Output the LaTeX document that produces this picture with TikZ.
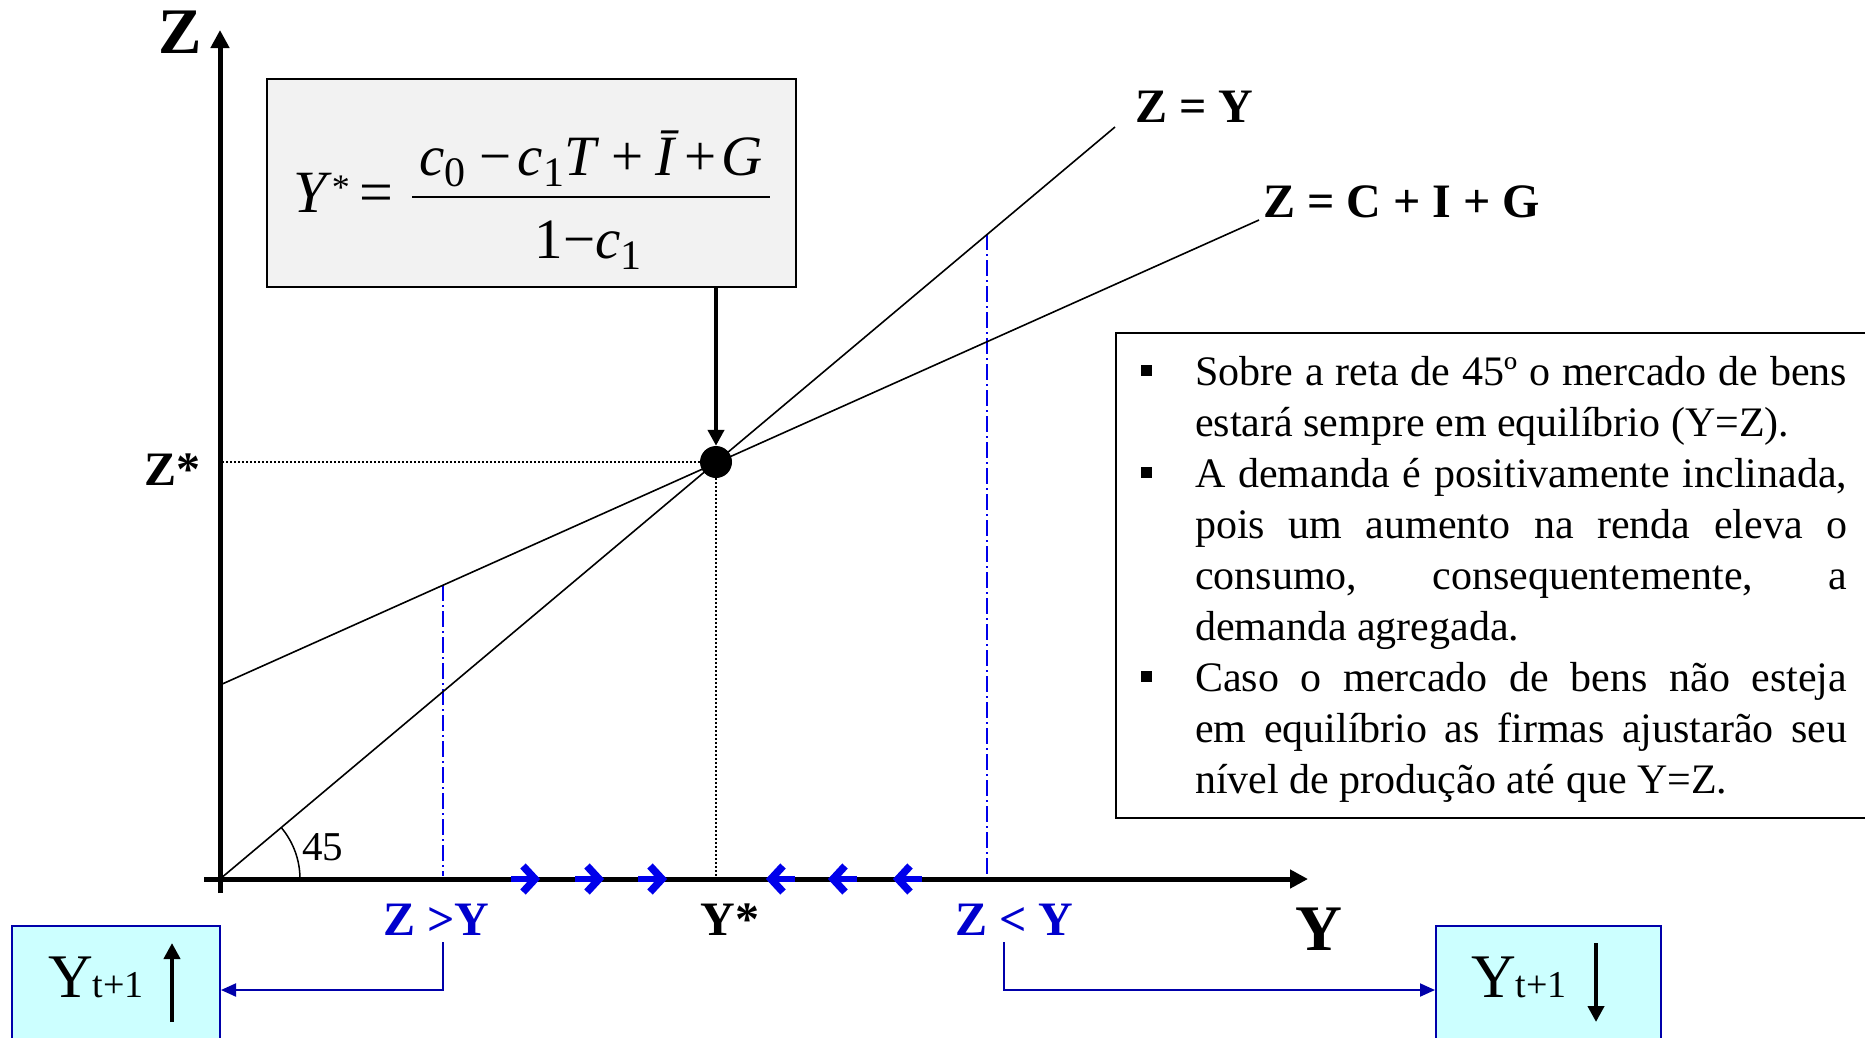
\documentclass[tikz,border=0pt]{standalone}
\usepackage{fontspec}
\setmainfont{Liberation Serif}
\usetikzlibrary{arrows.meta}
\definecolor{chevblue}{RGB}{0,0,235}
\definecolor{lblblue}{RGB}{0,0,205}
\definecolor{connblue}{RGB}{0,0,170}
\definecolor{boxfill}{RGB}{204,255,255}
\definecolor{eqfill}{RGB}{242,242,242}
\begin{document}
\begin{tikzpicture}[x=1pt,y=-1pt,
  axis/.style={line width=5pt,-{Triangle[width=18pt,length=18pt]}},
  curve/.style={line width=1.6pt},
  dotln/.style={line width=1.5pt,dash pattern=on 2pt off 2pt},
  ddash/.style={draw=chevblue,line width=1.6pt,dash pattern=on 16pt off 4pt on 2pt off 4pt},
  chevshaft/.style={draw=chevblue,line width=6pt},
  chevarm/.style={draw=chevblue,line width=7.5pt,line join=miter,miter limit=4},
  conn/.style={draw=connblue,line width=2pt,-{Triangle[width=13pt,length=15pt]}},
  blackarr/.style={line width=4pt,-{Triangle[width=16pt,length=16pt]}},
  bigbold/.style={inner sep=0,font=\fontsize{65}{65}\selectfont\bfseries},
  midbold/.style={inner sep=0,font=\fontsize{48}{48}\selectfont\bfseries},
  bluelbl/.style={midbold,text=lblblue},
  yblock/.style={draw=connblue,line width=2pt,fill=boxfill,inner sep=0},
  bulletsq/.style={fill=black,inner sep=0,minimum size=11pt},
  plain/.style={inner sep=0},
]
\useasboundingbox (0,0) rectangle (1865,1037);
\fill[white] (0,0) rectangle (1865,1037);
\clip (0,0) rectangle (1865,1037);

% key points
\coordinate (O) at (220,879);
\coordinate (ytop) at (220,30);
\coordinate (ybot) at (220,893);
\coordinate (xleft) at (204,879);
\coordinate (xend) at (1308,879);
\coordinate (zyend) at (1115,127);
\coordinate (cig0) at (220,685);
\coordinate (cigend) at (1259,220);
\coordinate (zs) at (222,462);
\coordinate (dl1a) at (443,585);
\coordinate (dl1b) at (443,876);
\coordinate (dl2a) at (987,234);
\coordinate (dl2b) at (987,876);
\coordinate (c1) at (443,942);
\coordinate (c2) at (1004,942);

% guide lines
\draw[dotln] (zs) -- (716,462);
\draw[dotln] (716,462) -- (716,876);
\draw[ddash] (dl1a) -- (dl1b);
\draw[ddash] (dl2a) -- (dl2b);

% curves
\draw[curve] (O) -- (zyend);
\draw[curve] (cig0) -- (cigend);
\draw[line width=1.5pt] (300,879) arc[start angle=0,end angle=40,radius=80pt];
\node[plain,anchor=base west,font=\fontsize{41}{41}\selectfont] (ang) at (302,860) {45};

% axes
\draw[axis] (ybot) -- (ytop);
\draw[axis] (xleft) -- (xend);

% blue chevrons
\foreach \t in {539,603,666} {
  \draw[chevshaft] (\t-28,879) -- (\t-8,879);
  \draw[chevarm] (\t-16,866) -- (\t-4,879) -- (\t-16,892);
}
\foreach \t in {767,829,894} {
  \draw[chevshaft] (\t+28,879) -- (\t+8,879);
  \draw[chevarm] (\t+16,866) -- (\t+4,879) -- (\t+16,892);
}

% equilibrium point
\node[circle,fill=black,inner sep=0,minimum size=32pt] (dot) at (716,462) {};

% formula box
\node[draw=black,line width=2pt,fill=eqfill,minimum width=529pt,minimum height=208pt,inner sep=0] (fbox) at (531.5,183) {};
\draw[blackarr] (fbox.south -| dot) -- (dot.north);
\node[plain,anchor=base west,font=\fontsize{60}{60}\selectfont] (eqlhs) at (293,212)
  {\textit{Y}\raisebox{13pt}{\fontsize{36}{36}\selectfont *}\hspace{10pt}=};
\node[plain,anchor=base,font=\fontsize{57}{57}\selectfont] (eqnum) at (591,175)
  {\textit{c}\lower11pt\hbox{\fontsize{42}{42}\selectfont 0}\hspace{14pt}−\hspace{6pt}\textit{c}\lower11pt\hbox{\fontsize{42}{42}\selectfont 1}\textit{T}\hspace{12pt}+\hspace{12pt}\textit{Ī}\hspace{5pt}+\hspace{5pt}\textit{G}};
\node[plain,anchor=base,font=\fontsize{57}{57}\selectfont] (eqden) at (588,258)
  {1−\textit{c}\lower11pt\hbox{\fontsize{42}{42}\selectfont 1}};
\draw[line width=2pt] (412,197) -- (770,197);

% axis labels
\node[bigbold,anchor=base west] (zlab) at (158,53) {Z};
\node[bigbold,anchor=base west] (ylab) at (1295,950) {Y};
\node[midbold,anchor=base west] (zstar) at (144,485) {Z*};
\node[midbold,anchor=base] (ystarl) at (730,935) {Y*};
\node[midbold,anchor=base west] (zeqy) at (1135,122) {Z = Y};
\node[midbold,anchor=base west] (zcig) at (1263,217) {Z = C + I + G};
\node[bluelbl,anchor=base west] (zgy) at (383,935) {Z >Y};
\node[bluelbl,anchor=base west] (zly) at (955,935) {Z < Y};

% result boxes
\node[yblock,minimum width=208pt,minimum height=128pt] (lbox) at (116,990) {};
\node[yblock,minimum width=225pt,minimum height=128pt] (rbox) at (1548.5,990) {};
\draw[conn] (c1) |- (lbox.east);
\draw[conn] (c2) |- (rbox.west);
\node[plain,anchor=base west] (lyt) at (48,997) {\fontsize{62}{62}\selectfont Y\fontsize{38}{38}\selectfont t+1};
\node[plain,anchor=base west] (ryt) at (1471,997) {\fontsize{62}{62}\selectfont Y\fontsize{38}{38}\selectfont t+1};
\draw[blackarr] (172,1022) -- (172,943);
\draw[blackarr] (1596,943) -- (1596,1022);

% text box
\draw[line width=2pt,fill=white] (1116,333) rectangle (1885,818);
\node[bulletsq] (b1) at (1146,370) {};
\node[bulletsq] (b2) at (1146,472) {};
\node[bulletsq] (b3) at (1146,676) {};
\node[plain,anchor=base west] (txt) at (1195,385) {\parbox[t]{652pt}{\fontsize{42}{51}\selectfont
  \tolerance=10000\hbadness=10000\parindent=0pt\parskip=0pt
  Sobre a reta de 45º o mercado de bens\linebreak estará sempre em equilíbrio (Y=Z).\par
  A demanda é positivamente inclinada,\linebreak pois um aumento na renda eleva o\linebreak consumo, consequentemente, a\linebreak demanda agregada.\par
  Caso o mercado de bens não esteja\linebreak em equilíbrio as firmas ajustarão seu\linebreak nível de produção até que Y=Z.}};
\end{tikzpicture}
\end{document}
